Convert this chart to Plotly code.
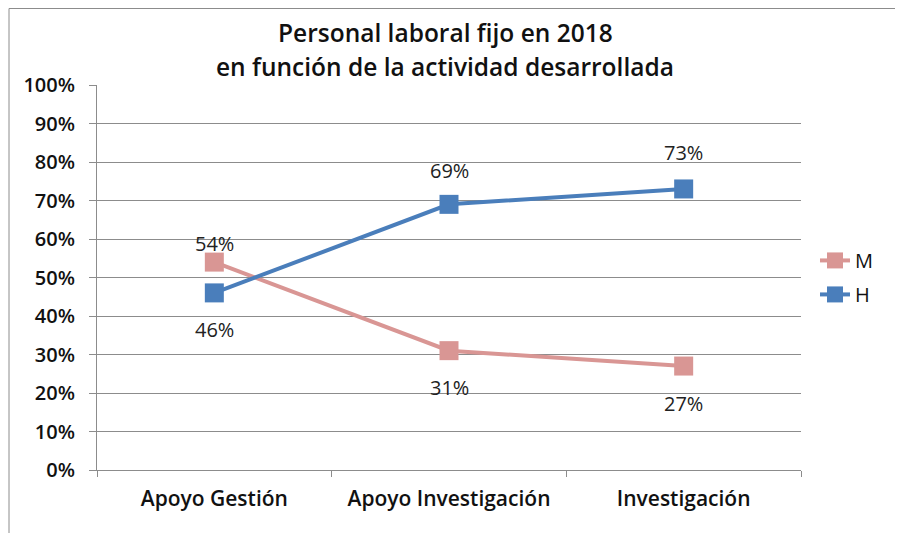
import plotly.graph_objects as go

# ---------------------------
# Data
# ---------------------------
categorias = ["Apoyo Gestión", "Apoyo Investigación", "Investigación"]
mujeres = [54, 31, 27]
hombres = [46, 69, 73]
ticks_y = list(range(0, 101, 10))

# label offsets (px above/below the point)
shift_m = [19, -37, -37]
shift_h = [-37, 34, 36]

PINK = "#D99694"
BLUE = "#4A7EBB"
GRID = "#8c8c8c"
FONT = "Open Sans, Noto Sans, sans-serif"

# the page body adds 8px, so margins are shifted by that
M_L, M_T = 89, 77
W_PLOT, H_PLOT = 704, 385

fig = go.Figure()

fig.add_trace(go.Scatter(
    x=categorias, y=mujeres, name="M", legendgroup="m",
    mode="lines+markers",
    line=dict(color=PINK, width=4),
    marker=dict(symbol="square", size=19, color=PINK),
    cliponaxis=False,
))

fig.add_trace(go.Scatter(
    x=categorias, y=hombres, name="H", legendgroup="h",
    mode="lines+markers",
    line=dict(color=BLUE, width=4),
    marker=dict(symbol="square", size=19, color=BLUE),
    cliponaxis=False,
))

# data labels
labels = []
for serie, shifts in ((mujeres, shift_m), (hombres, shift_h)):
    for cat, v, s in zip(categorias, serie, shifts):
        labels.append(dict(
            x=cat, y=v, text=f"{v}%", showarrow=False, yshift=s,
            xanchor="center", yanchor="middle",
            font=dict(size=20, family=FONT, color="#222222"),
        ))

labels += [
    dict(text="Personal laboral fijo en 2018", xref="paper", yref="paper",
         x=0.495, y=1 + (M_T - 24) / H_PLOT, xanchor="center", yanchor="middle",
         showarrow=False, font=dict(size=24.5, family=FONT, color="#111111", weight=600)),
    dict(text="en función de la actividad desarrollada", xref="paper", yref="paper",
         x=0.495, y=1 + (M_T - 59) / H_PLOT, xanchor="center", yanchor="middle",
         showarrow=False, font=dict(size=24.5, family=FONT, color="#111111", weight=600)),
]

fig.update_layout(
    width=903, height=533,
    paper_bgcolor="white", plot_bgcolor="white",
    margin=dict(l=M_L, r=903 - M_L - W_PLOT, t=M_T, b=533 - M_T - H_PLOT, autoexpand=False),
    font=dict(family=FONT, color="#111111"),
    xaxis=dict(
        type="category", range=[-0.5, 2.5],
        showgrid=False, showline=True, linecolor=GRID, linewidth=1,
        ticks="outside", tickson="boundaries", ticklen=6, tickcolor=GRID,
        ticklabelstandoff=10,
        tickfont=dict(size=21, family=FONT, color="#111111", weight=600),
        automargin=False, fixedrange=True,
    ),
    yaxis=dict(
        range=[0, 100], tickvals=ticks_y,
        ticktext=[f"{v}%" for v in ticks_y],
        showgrid=True, gridcolor=GRID, gridwidth=1,
        showline=True, linecolor=GRID, linewidth=1,
        ticks="outside", ticklen=7, tickcolor=GRID,
        ticklabelstandoff=10,
        tickfont=dict(size=20, family=FONT, color="#111111", weight=600),
        zeroline=False, automargin=False, fixedrange=True,
    ),
    legend=dict(
        x=1 + 14 / W_PLOT, xanchor="left", y=0.595, yanchor="top",
        font=dict(size=20, family=FONT, color="#111111"),
        tracegroupgap=5,
        bgcolor="rgba(0,0,0,0)",
    ),
    showlegend=True,
    annotations=labels,
    shapes=[dict(
        type="rect", xref="paper", yref="paper",
        x0=-(M_L - 1) / W_PLOT, x1=1.2, y0=-0.3, y1=1 + (M_T - 0.5) / H_PLOT,
        line=dict(color=GRID, width=1),
    )],
)

fig.write_html("out.html")
